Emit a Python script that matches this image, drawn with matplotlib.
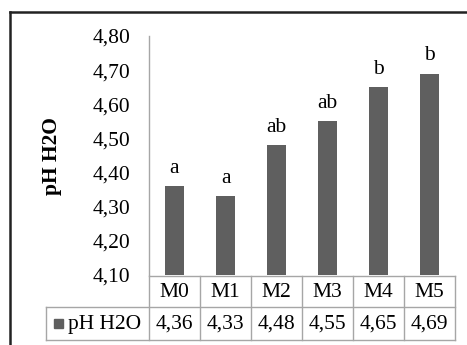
import matplotlib
matplotlib.use('Agg')
from matplotlib import pyplot as plt
from matplotlib.lines import Line2D
from matplotlib.patches import Rectangle

# data
categories = ['M0', 'M1', 'M2', 'M3', 'M4', 'M5']
ph_h2o = [4.36, 4.33, 4.48, 4.55, 4.65, 4.69]
letters = ['a', 'a', 'ab', 'ab', 'b', 'b']
yticks = [4.10, 4.20, 4.30, 4.40, 4.50, 4.60, 4.70, 4.80]
series_name = 'pH H2O'

plt.rcParams['font.family'] = ['Liberation Serif', 'DejaVu Serif']
W, H = 467, 345
barColor = '#5f5f5f'
lineColor = '#a6a6a6'
fs = 15.5

fig = plt.figure(figsize=(W / 100, H / 100), dpi=100)
fig.patch.set_facecolor('white')

# axes placement in pixels
axL, axR, axT, axB = 149, 455, 36, 275
ax = fig.add_axes([axL / W, 1 - axB / H, (axR - axL) / W, (axB - axT) / H])

x = list(range(len(categories)))
ax.bar(x, [v - yticks[0] for v in ph_h2o], bottom=yticks[0], width=0.38, color=barColor)
ax.set_xlim(-0.5, len(categories) - 0.5)
ax.set_ylim(yticks[0], yticks[-1])
ax.set_yticks(yticks)
ax.set_yticklabels([('%.2f' % t).replace('.', ',') for t in yticks], fontsize=fs)
ax.tick_params(axis='y', length=0, pad=13.5)
ax.set_xticks([])
for s in ['top', 'right', 'bottom']:
    ax.spines[s].set_visible(False)
ax.spines['left'].set_color(lineColor)
ax.spines['left'].set_linewidth(1.0)

# significance letters
for xi, v, l in zip(x, ph_h2o, letters):
    ax.annotate(l, (xi, v), xytext=(0, 6), textcoords='offset points',
                ha='center', va='bottom', fontsize=fs)

# y label
fig.text(52 / W, 1 - 156 / H, series_name, rotation=90, ha='center', va='center',
         fontsize=fs, fontweight='bold')

# data table under the axes (blended: x in data, y in axes fraction)
trans = ax.get_xaxis_transform()
axh = axB - axT
def yf(py):
    return (axB - py) / axh

rowTop, rowMid, rowBot = 276, 307, 340
legLeft = -0.5 - (axL - 46) / ((axR - axL) / len(categories))
lkw = dict(color=lineColor, lw=1.0, transform=trans, clip_on=False)
ax.add_line(Line2D([-0.5, 5.5], [yf(rowTop)] * 2, **lkw))
ax.add_line(Line2D([legLeft, 5.5], [yf(rowMid)] * 2, **lkw))
ax.add_line(Line2D([legLeft, 5.5], [yf(rowBot)] * 2, **lkw))
for b in [i - 0.5 for i in range(len(categories) + 1)]:
    ax.add_line(Line2D([b, b], [yf(rowTop), yf(rowBot)], **lkw))
ax.add_line(Line2D([legLeft, legLeft], [yf(rowMid), yf(rowBot)], **lkw))

for xi, c, v in zip(x, categories, ph_h2o):
    ax.text(xi, yf((rowTop + rowMid) / 2 + 1), c, transform=trans, ha='center', va='center', fontsize=fs)
    ax.text(xi, yf((rowMid + rowBot) / 2 + 1), ('%.2f' % v).replace('.', ','), transform=trans,
            ha='center', va='center', fontsize=fs)

# legend key in the table row
fig.patches.append(Rectangle((54 / W, 1 - 328 / H), 9 / W, 9 / H, transform=fig.transFigure,
                             color=barColor))
fig.text(68 / W, 1 - ((rowMid + rowBot) / 2 + 1) / H, series_name, ha='left', va='center', fontsize=fs)

# outer frame (top and left)
fig.add_artist(Line2D([10 / W, 10 / W], [0, 1 - 12 / H], color='#222222', lw=1.8))
fig.add_artist(Line2D([10 / W, 1], [1 - 12 / H, 1 - 12 / H], color='#222222', lw=1.8))

plt.savefig('out.png', dpi=100)
